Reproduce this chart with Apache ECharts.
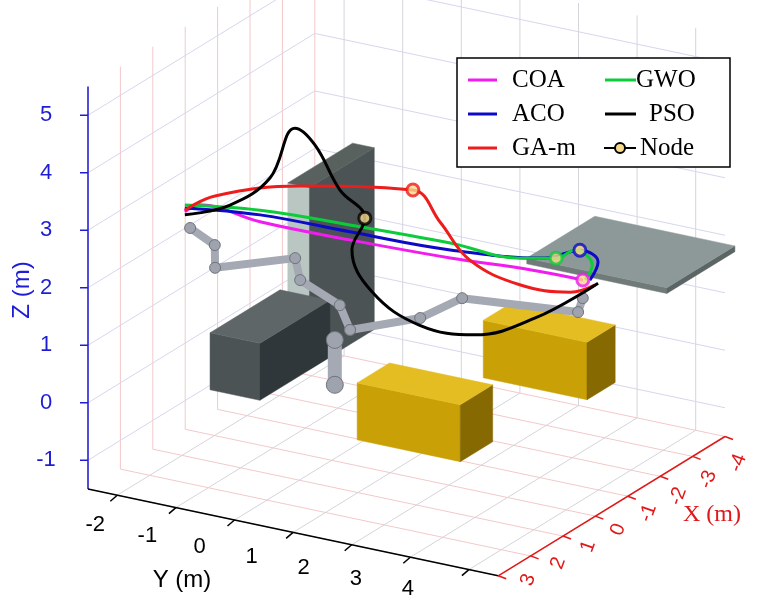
<!DOCTYPE html>
<html><head><meta charset="utf-8">
<script src="https://cdn.jsdelivr.net/npm/echarts@6/dist/echarts.min.js"></script>
<style>html,body{margin:0;padding:0;background:#fff}#c{width:760px;height:607px}</style>
</head><body><div id="c"></div>
<script>
// ---- data (metres) ----
const xTicks = [3, 2, 1, 0, -1, -2, -3, -4];
const yTicks = [-2, -1, 0, 1, 2, 3, 4];
const zTicks = [-1, 0, 1, 2, 3, 4, 5];
const xRange = [-4, 3], yRange = [-2.5, 4.5], zRange = [-1.5, 5.5];

const pathCOA = [[2,-1.40,3.21],[1.7,-1.31,3.25],[1,-0.67,2.85],[0,0.31,2.40],[-1,1.47,1.99],[-1.6,2.5,1.80],[-2,3.18,1.63]];
const pathACO = [[2,-1.40,3.28],[1,-0.67,2.97],[0,0.31,2.54],[-1,1.47,2.13],[-1.6,2.76,2.06],[-1.8,3.24,2.23],[-2,3.44,2.0],[-2,3.30,1.65]];
const pathGWO = [[2,-1.40,3.33],[1,-0.67,3.05],[0,0.31,2.66],[-1,1.47,2.25],[-1.5,2.38,2.01],[-1.7,2.89,2.05],[-1.85,3.13,2.19],[-2,3.34,1.92],[-2,3.22,1.64]];
const pathGAm = [[2,-1.40,3.24],[1.7,-1.05,3.46],[0.7,-0.15,3.48],[-0.3,1.22,3.36],[-0.6,1.52,2.76],[-0.9,1.86,2.07],[-1.3,2.49,1.64],[-1.7,3.13,1.51],[-2,3.39,1.59]];
const pathPSO = [[2,-1.40,3.16],[1.6,-0.85,3.31],[1.2,-0.39,3.74],[0.9,-0.13,4.56],[0.7,0.10,4.25],[0.4,0.36,3.42],[0.1,0.62,2.88],[-0.1,0.29,2.19],[-0.4,0.47,1.39],[-0.8,1.06,0.80],[-1.2,1.78,0.65],[-1.6,2.59,0.98],[-2,3.44,1.63]];
const nodes = [[-0.3,1.22,3.36,'GA-m'],[0.1,0.62,2.88,'PSO'],[-1.8,3.24,2.23,'ACO'],[-1.7,2.89,2.05,'GWO'],[-2,3.18,1.63,'COA']];

const robotA = [[2,-1.31,2.95],[1.8,-1.0,2.65],[1.7,-1.05,2.21],[1.2,0.04,2.44],[1.1,0.07,2.03],[0.8,0.58,1.60],[0.7,0.70,1.16]];
const robotB = [[0.7,0.70,1.16],[0,1.51,1.30],[-0.3,2.06,1.66],[-1.6,3.32,1.24],[-1.6,3.40,1.50]];
const robotBase = [[0.7,0.44,0.93],[0.7,0.44,0.15]];

// boxes: x range, y range, z range, colours [top, front(+x), side(+y)]
const boxPanel = [[-0.5,1.5],[0.08,0.45],[0.7,3.86],['#59615f','#b9c6c2','#4b5355']];
const boxDark  = [[-0.16,2],[-0.97,-0.12],[0.21,1.2],['#5e6668','#4c5355','#30373a']];
const boxPlate = [[-3.4,-1.3],[2.61,5.0],[2.03,2.13],['#8c9998','#6f7a79','#5b6564']];
const boxGold2 = [[-1.37,-0.5],[2.31,4.08],[0.26,1.26],['#e3bd22','#c9a106','#866900']];
const boxGold1 = [[1,2],[1.54,3.30],[-0.12,0.87],['#e3bd22','#c9a106','#866900']];

const colors = {COA:'#f01cf0', ACO:'#0a0ac8', 'GA-m':'#ee1c1c', GWO:'#0ccc3a', PSO:'#000000'};

// ---- projection ----
function P(p){
  const u = 3 - p[0], v = p[1] + 2.5, w = p[2] + 1.5;
  return [88 + 58.6*v + 32.4*u, 489 + 12.4*v - 19.9*u - 57.5*w];
}
function lineData(pts){ return pts.map(P); }

// grid lines
const gridSeg = [];
function seg(a,b,c){ gridSeg.push({a:P(a),b:P(b),c:c}); }
for (const x of xTicks){ seg([x,yRange[0],zRange[0]],[x,yRange[1],zRange[0]],'#f2c9c9'); seg([x,yRange[0],zRange[0]],[x,yRange[0],zRange[1]],'#f2c9c9'); }
for (const y of yTicks){ seg([xRange[1],y,zRange[0]],[xRange[0],y,zRange[0]],'#d4d4dc'); seg([xRange[0],y,zRange[0]],[xRange[0],y,zRange[1]],'#d4d4dc'); }
for (const z of zTicks){ seg([xRange[1],yRange[0],z],[xRange[0],yRange[0],z],'#d6d6ee'); seg([xRange[0],yRange[0],z],[xRange[0],yRange[1],z],'#d6d6ee'); }

// faces
const faces = [];
function addBox(b){
  const [xr,yr,zr,col]=b; const x0=xr[0],x1=xr[1],y0=yr[0],y1=yr[1],z0=zr[0],z1=zr[1];
  faces.push({pts:[[x1,y0,z0],[x1,y1,z0],[x1,y1,z1],[x1,y0,z1]].map(P), c:col[1]});
  faces.push({pts:[[x1,y1,z0],[x0,y1,z0],[x0,y1,z1],[x1,y1,z1]].map(P), c:col[2]});
  faces.push({pts:[[x1,y0,z1],[x1,y1,z1],[x0,y1,z1],[x0,y0,z1]].map(P), c:col[0]});
}
[boxPanel, boxDark, boxPlate, boxGold2, boxGold1].forEach(addBox);

// axis texts
const texts = [];
const ticks = [];
for (const z of zTicks){ const q=P([xRange[1],yRange[0],z]); texts.push({p:[q[0]-42,q[1]],t:String(z),c:'#1d1dd6',r:0,s:22}); ticks.push({a:q,b:[q[0]-8,q[1]],c:'#1d1dd6'}); }
for (const y of yTicks){ const q=P([xRange[1],y,zRange[0]]); const k=y-yTicks[0]; texts.push({p:[q[0]-22-6.5*k,q[1]+30-1.7*k],t:String(y),c:'#000',r:0,s:22}); ticks.push({a:q,b:[q[0]-7,q[1]+6],c:'#000'}); }
for (const x of xTicks){ const q=P([x,yRange[1],zRange[0]]); const k=xTicks[0]-x; texts.push({p:[q[0]+30-2.4*k,q[1]+4+3.2*k],t:String(x),c:'#e01818',r:70,s:20}); ticks.push({a:q,b:[q[0]+8,q[1]+3],c:'#e01818'}); }
const axisLines = [
  {a:P([xRange[1],yRange[0],zRange[0]]), b:P([xRange[1],yRange[0],zRange[1]]), c:'#1d1dd6'},
  {a:P([xRange[1],yRange[0],zRange[0]]), b:P([xRange[1],yRange[1],zRange[0]]), c:'#000'},
  {a:P([xRange[1],yRange[1],zRange[0]]), b:P([xRange[0],yRange[1],zRange[0]]), c:'#e01818'}
];

const chart = echarts.init(document.getElementById('c'));
function segSeries(list, width, z){
  return {type:'custom', z:z, silent:true, data:list.map((d,i)=>i), coordinateSystem:'cartesian2d',
    renderItem:(params,api)=>{ const d=list[params.dataIndex]; const a=api.coord(d.a), b=api.coord(d.b);
      return {type:'line', shape:{x1:a[0],y1:a[1],x2:b[0],y2:b[1]}, style:{stroke:d.c, lineWidth:width}}; }};
}
const series = [];
series.push(segSeries(gridSeg, 1, 1));
series.push(segSeries(axisLines, 1.5, 2));
series.push(segSeries(ticks, 1.5, 2));
series.push({type:'custom', z:3, silent:true, data:faces.map((f,i)=>i),
  renderItem:(params,api)=>{ const f=faces[params.dataIndex];
    return {type:'polygon', shape:{points:f.pts.map(p=>api.coord(p))}, style:{fill:f.c, stroke:f.c, lineWidth:0.5}}; }});
function robotLine(pts, w){
  return {type:'line', z:4, silent:true, data:lineData(pts), symbol:'circle', symbolSize:w+3, smooth:false,
    itemStyle:{color:'#9ea3ae', borderColor:'#6e737c', borderWidth:1},
    lineStyle:{color:'#a4a9b4', width:w, cap:'round', join:'round'}};
}
series.push(robotLine(robotA, 8));
series.push(robotLine(robotB, 8));
series.push(robotLine(robotBase, 14));
function pathSeries(name, pts){
  return {type:'line', name:name, z:5, data:lineData(pts), symbol:'none', smooth:0.4,
    lineStyle:{color:colors[name], width:3}};
}
series.push(pathSeries('COA', pathCOA));
series.push(pathSeries('ACO', pathACO));
series.push(pathSeries('GWO', pathGWO));
series.push(pathSeries('GA-m', pathGAm));
series.push(pathSeries('PSO', pathPSO));
series.push({type:'scatter', z:6, symbol:'circle', symbolSize:12,
  data:nodes.map(n=>({value:P(n), itemStyle:{color:'#f7da8c', borderColor:colors[n[3]], borderWidth:3}}))});
series.push({type:'custom', z:7, silent:true, data:texts.map((t,i)=>i),
  renderItem:(params,api)=>{ const t=texts[params.dataIndex]; const p=api.coord(t.p);
    return {type:'text', x:p[0], y:p[1], rotation:t.r*Math.PI/180,
      style:{text:t.t, fill:t.c, font:t.s+'px "Liberation Sans", Arial, sans-serif', align:'center', verticalAlign:'middle'}}; }});

// legend (graphic)
const legendRows = [['COA','GWO'],['ACO','PSO'],['GA-m','Node']];
const lg = [{type:'rect', shape:{x:457,y:58,width:273,height:109}, style:{fill:'#fff', stroke:'#000', lineWidth:1.5}, z:100}];
legendRows.forEach((row,i)=>{
  const y = 80 + i*34;
  lg.push({type:'line', shape:{x1:468,y1:y,x2:497,y2:y}, style:{stroke:colors[row[0]], lineWidth:3}, z:101});
  lg.push({type:'text', x:512, y:y, style:{text:row[0], font:'25px "Liberation Serif", "Times New Roman", serif', fill:'#000', verticalAlign:'middle'}, z:101});
  const n=row[1];
  if (n==='Node'){
    lg.push({type:'line', shape:{x1:604,y1:y,x2:636,y2:y}, style:{stroke:'#000', lineWidth:2}, z:101});
    lg.push({type:'circle', shape:{cx:620,cy:y,r:5}, style:{fill:'#f7da8c', stroke:'#000', lineWidth:2}, z:102});
    lg.push({type:'text', x:640, y:y, style:{text:n, font:'25px "Liberation Serif", "Times New Roman", serif', fill:'#000', verticalAlign:'middle'}, z:101});
  } else {
    lg.push({type:'line', shape:{x1:605,y1:y,x2:636,y2:y}, style:{stroke:colors[n], lineWidth:3}, z:101});
    lg.push({type:'text', x:n==='PSO'?649:636, y:y, style:{text:n, font:'25px "Liberation Serif", "Times New Roman", serif', fill:'#000', verticalAlign:'middle'}, z:101});
  }
});
lg.push({type:'text', x:22, y:290, rotation:Math.PI/2, style:{text:'Z (m)', font:'24px "Liberation Sans", Arial, sans-serif', fill:'#1d1dd6', align:'center', verticalAlign:'middle'}, z:50});
lg.push({type:'text', x:182, y:580, style:{text:'Y (m)', font:'24px "Liberation Sans", Arial, sans-serif', fill:'#000', align:'center', verticalAlign:'middle'}, z:50});
lg.push({type:'text', x:712, y:515, style:{text:'X (m)', font:'24px "Liberation Serif", "Times New Roman", serif', fill:'#e01818', align:'center', verticalAlign:'middle'}, z:50});

chart.setOption({
  animation:false,
  grid:{left:0,right:0,top:0,bottom:0},
  xAxis:{type:'value', min:0, max:760, show:false},
  yAxis:{type:'value', min:0, max:607, inverse:true, show:false},
  series:series,
  graphic:lg
});
</script></body></html>
